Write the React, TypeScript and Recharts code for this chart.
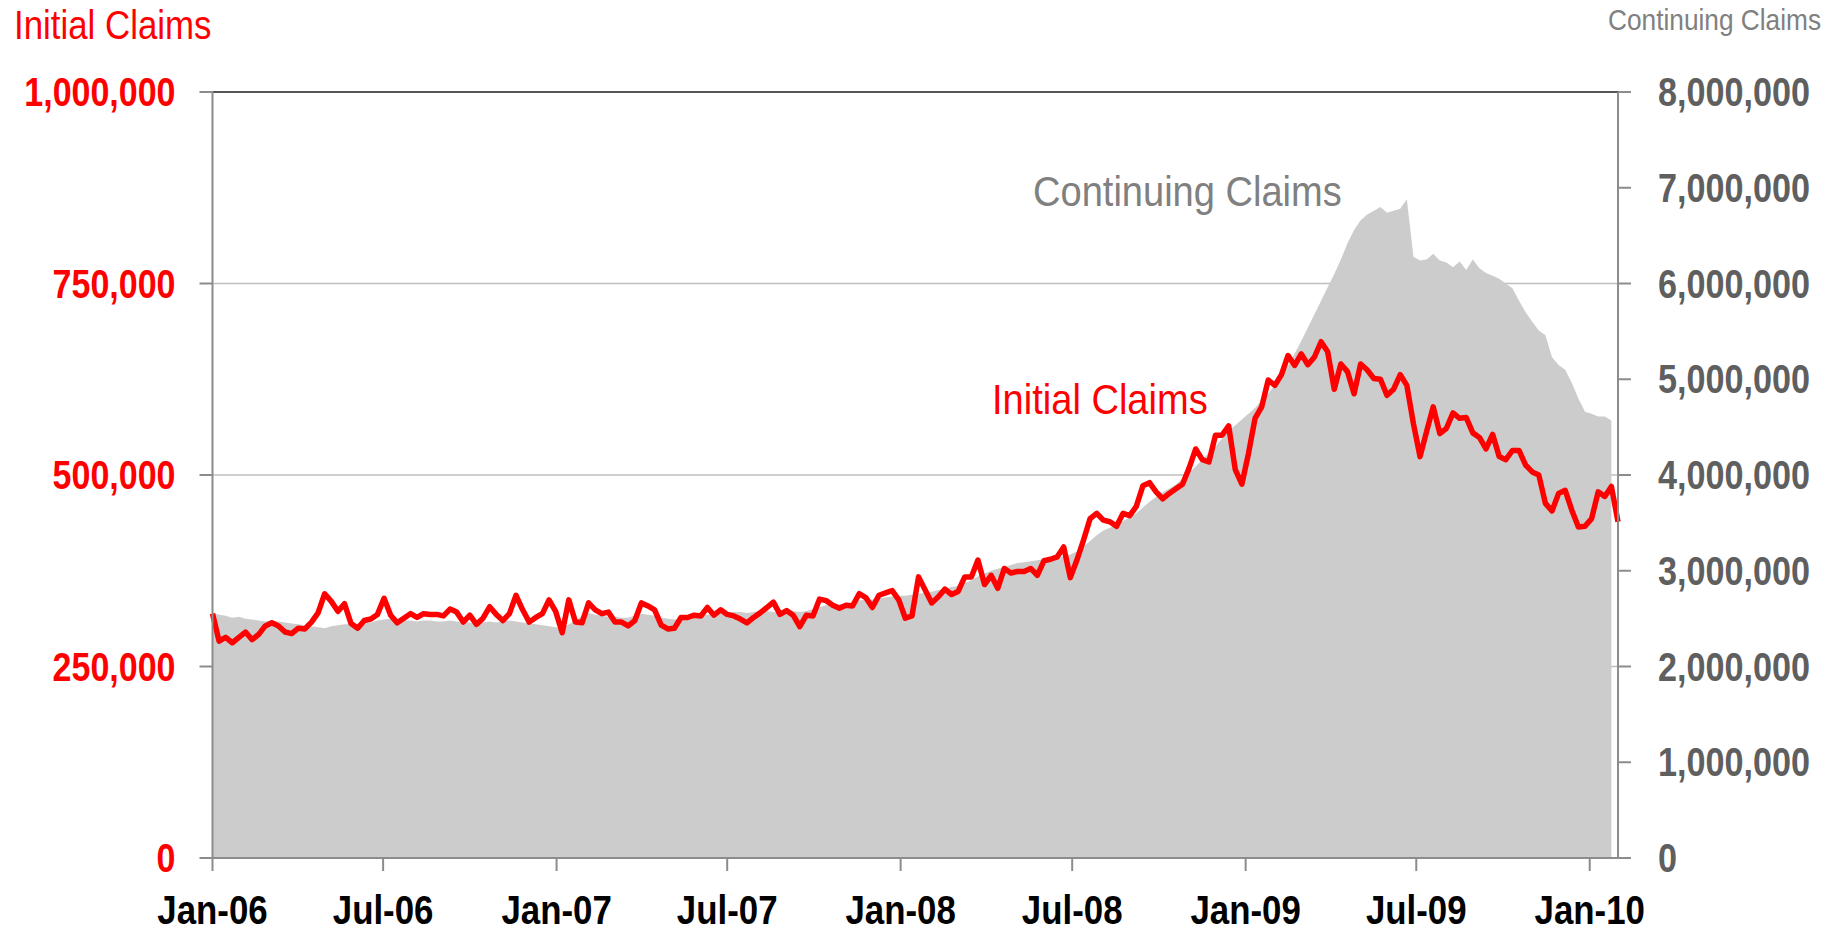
import React from 'react';
import { ComposedChart, Area, Line, XAxis, YAxis, CartesianGrid, ReferenceLine } from 'recharts';

// weekly values, thousands, week 0 = first week of Jan 2006
const initialClaims = [
  319, 283, 288, 281, 288, 295, 285, 292, 303, 307,
  303, 295, 293, 300, 299, 308, 320, 345, 335, 322,
  332, 306, 300, 310, 312, 318, 339, 317, 307, 313,
  319, 314, 319, 318, 318, 316, 325, 321, 308, 317,
  305, 313, 328, 318, 310, 319, 343, 324, 308, 314,
  319, 337, 322, 294, 337, 308, 307, 333, 324, 319,
  321, 308, 308, 303, 310, 333, 329, 324, 304, 299,
  300, 314, 314, 317, 316, 327, 317, 324, 318, 316,
  312, 307, 314, 320, 327, 334, 318, 323, 317, 302,
  317, 316, 338, 336, 330, 326, 330, 329, 345, 340,
  327, 343, 346, 349, 337, 313, 316, 367, 350, 333,
  341, 351, 344, 348, 367, 367, 389, 357, 369, 352,
  378, 372, 374, 374, 378, 369, 388, 390, 393, 406,
  366, 389, 415, 443, 450, 441, 439, 433, 450, 447,
  459, 486, 490, 478, 469, 476, 482, 488, 509, 534,
  520, 517, 552, 552, 564, 507, 488, 528, 574, 589,
  624, 617, 631, 656, 643, 658, 644, 654, 674, 661,
  612, 645, 635, 606, 645, 637, 626, 625, 604, 612,
  631, 617, 567, 524, 557, 589, 554, 561, 581, 574,
  575, 555, 549, 534, 553, 524, 520, 532, 532, 513,
  504, 500, 463, 453, 476, 480, 454, 432, 433, 443,
  478, 472, 485, 439,
];

const continuingClaims = [
  2560, 2540, 2530, 2510, 2520, 2500, 2490, 2480, 2470, 2480,
  2470, 2460, 2450, 2440, 2430, 2420, 2410, 2400, 2420, 2430,
  2440, 2440, 2450, 2460, 2460, 2480, 2490, 2500, 2490, 2480,
  2480, 2470, 2480, 2480, 2470, 2470, 2480, 2470, 2460, 2460,
  2450, 2460, 2470, 2460, 2470, 2480, 2470, 2460, 2450, 2440,
  2430, 2420, 2410, 2400, 2440, 2480, 2530, 2560, 2540, 2530,
  2520, 2520, 2510, 2510, 2530, 2550, 2540, 2530, 2510, 2500,
  2490, 2500, 2510, 2520, 2530, 2540, 2550, 2560, 2570, 2570,
  2570, 2560, 2570, 2580, 2580, 2570, 2560, 2570, 2580, 2570,
  2580, 2600, 2620, 2640, 2640, 2650, 2660, 2670, 2690, 2700,
  2700, 2710, 2720, 2730, 2740, 2740, 2750, 2760, 2770, 2780,
  2800, 2810, 2830, 2840, 2870, 2900, 2940, 2970, 3000, 3020,
  3040, 3060, 3080, 3090, 3100, 3110, 3120, 3130, 3140, 3150,
  3170, 3200, 3250, 3310, 3370, 3420, 3450, 3480, 3520, 3560,
  3600, 3660, 3720, 3770, 3820, 3860, 3900, 3960, 4020, 4090,
  4160, 4230, 4300, 4380, 4460, 4520, 4580, 4640, 4700, 4780,
  4850, 4940, 5030, 5140, 5270, 5400, 5540, 5680, 5820, 5960,
  6100, 6250, 6420, 6560, 6660, 6720, 6760, 6800, 6740, 6760,
  6780, 6880, 6280, 6240, 6250, 6310, 6240, 6220, 6170, 6230,
  6140, 6250, 6160, 6110, 6080, 6050, 6000, 5950, 5820, 5700,
  5600, 5510, 5460, 5230, 5150, 5100, 4960, 4800, 4660, 4640,
  4610, 4610, 4570, null,
];

// x ticks: days since Jan 1 2006
const tickDays = [0, 181, 365, 546, 730, 912, 1096, 1277, 1461];
const tickLabels = ['Jan-06', 'Jul-06', 'Jan-07', 'Jul-07', 'Jan-08', 'Jul-08', 'Jan-09', 'Jul-09', 'Jan-10'];
const leftTicks = [0, 250000, 500000, 750000, 1000000];
const rightTicks = [0, 1000000, 2000000, 3000000, 4000000, 5000000, 6000000, 7000000, 8000000];

const FONT = "'Liberation Sans', Arial, sans-serif";
const AXIS_GREY = '#8c8c8c';

const data = initialClaims.map((v, i) => ({
  week: i,
  initial: v * 1000,
  continuing: continuingClaims[i] == null ? null : (continuingClaims[i] as number) * 1000,
}));

const xTicks = tickDays.map(d => d / 7);

const fmt = (v: number) => v.toLocaleString('en-US');

const LeftTick = ({ x, y, payload }: any) => (
  <text transform={`translate(${x},${y}) scale(0.85,1)`} textAnchor="end" dy="0.355em"
    fill="#ff0000" fontSize={40} fontWeight="bold" fontFamily={FONT}>
    {fmt(payload.value)}
  </text>
);

const RightTick = ({ x, y, payload }: any) => (
  <text transform={`translate(${x},${y}) scale(0.855,1)`} textAnchor="start" dy="0.355em"
    fill="#5f5f5f" fontSize={40} fontWeight="bold" fontFamily={FONT}>
    {fmt(payload.value)}
  </text>
);

const BottomTick = ({ x, y, payload }: any) => {
  const idx = xTicks.findIndex(t => Math.abs(t - payload.value) < 0.01);
  return (
    <text transform={`translate(${x},${y}) scale(0.85,1)`} textAnchor="middle" dy="0.71em"
      fill="#000" fontSize={41} fontWeight="bold" fontFamily={FONT}>
      {idx >= 0 ? tickLabels[idx] : ''}
    </text>
  );
};

const labelStyle = (left: number, top: number, size: number, color: string, sx: number): React.CSSProperties => ({
  position: 'absolute',
  left,
  top,
  fontFamily: FONT,
  fontSize: size,
  lineHeight: 1,
  color,
  whiteSpace: 'nowrap',
  transform: `scaleX(${sx})`,
  transformOrigin: 'left top',
});

export default function App() {
  return (
    <div style={{ position: 'absolute', left: 0, top: 0, width: 1841, height: 932, background: '#fff' }}>
      <ComposedChart width={1841} height={932} data={data} margin={{ top: 92, right: 10, bottom: 14, left: 10 }}>
        <CartesianGrid yAxisId="left" vertical={false} stroke="#bfbfbf" strokeWidth={1.5} />
        <XAxis
          dataKey="week"
          type="number"
          domain={[0, 213]}
          ticks={xTicks}
          interval={0}
          height={60}
          tickSize={13}
          tickMargin={24}
          axisLine={{ stroke: AXIS_GREY, strokeWidth: 2 }}
          tickLine={{ stroke: AXIS_GREY, strokeWidth: 2 }}
          tick={<BottomTick />}
        />
        <YAxis
          yAxisId="left"
          orientation="left"
          width={202.5}
          domain={[0, 1000000]}
          ticks={leftTicks}
          interval={0}
          tickSize={13}
          tickMargin={24}
          axisLine={{ stroke: AXIS_GREY, strokeWidth: 2 }}
          tickLine={{ stroke: AXIS_GREY, strokeWidth: 2 }}
          tick={<LeftTick />}
        />
        <YAxis
          yAxisId="right"
          orientation="right"
          width={213}
          domain={[0, 8000000]}
          ticks={rightTicks}
          interval={0}
          tickSize={13}
          tickMargin={27}
          axisLine={{ stroke: AXIS_GREY, strokeWidth: 2 }}
          tickLine={{ stroke: AXIS_GREY, strokeWidth: 2 }}
          tick={<RightTick />}
        />
        <Area
          yAxisId="right"
          type="linear"
          dataKey="continuing"
          fill="#cccccc"
          fillOpacity={1}
          stroke="none"
          isAnimationActive={false}
        />
        <ReferenceLine yAxisId="left" y={1000000} stroke="#555555" strokeWidth={2} />
        <Line
          yAxisId="left"
          type="linear"
          dataKey="initial"
          stroke="#ff0000"
          strokeWidth={5.5}
          strokeLinejoin="round"
          dot={false}
          activeDot={false}
          isAnimationActive={false}
        />
      </ComposedChart>
      <div style={labelStyle(14, 5, 41, '#ff0000', 0.85)}>Initial Claims</div>
      <div style={labelStyle(1608, 5, 30, '#808080', 0.875)}>Continuing Claims</div>
      <div style={labelStyle(1033, 170, 43, '#808080', 0.885)}>Continuing Claims</div>
      <div style={labelStyle(992, 378, 43, '#ff0000', 0.885)}>Initial Claims</div>
    </div>
  );
}
